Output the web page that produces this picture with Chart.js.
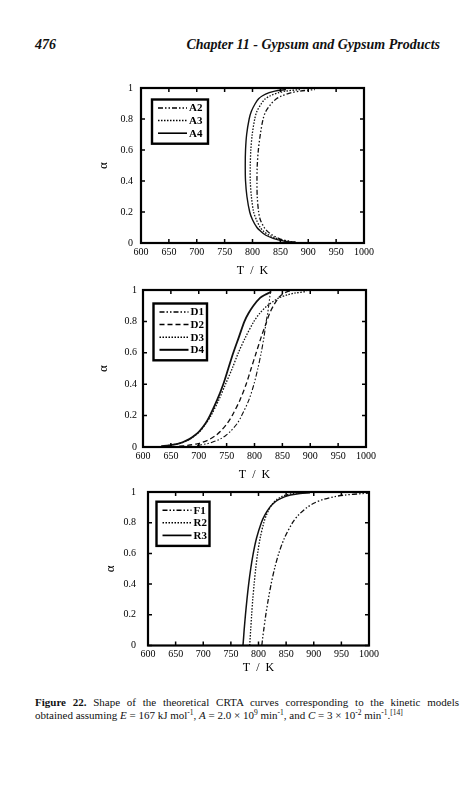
<!DOCTYPE html>
<html>
<head>
<meta charset="utf-8">
<script src="https://cdn.jsdelivr.net/npm/chart.js@4.4.0/dist/chart.umd.min.js"></script>
<style>
  body { margin: 0; width: 473px; height: 800px; background: #fff; position: relative; overflow: hidden;
         font-family: "Liberation Serif", "Times New Roman", serif; color: #111; }
  canvas { position: absolute; }
  #page { position: absolute; left: 35px; top: 38px; font-size: 14px; line-height: 14px; font-weight: bold; font-style: italic; }
  #chapter { position: absolute; right: 33px; top: 38px; font-size: 14px; line-height: 14px; font-weight: bold; font-style: italic; }
  #caption { position: absolute; left: 35px; top: 696px; width: 424px; font-size: 11px; line-height: 12.5px; }
  #caption .l1 { text-align: justify; text-align-last: justify; }
  #caption sup { font-size: 7.5px; vertical-align: 0; position: relative; top: -4px; }
</style>
</head>
<body>
<div id="page">476</div>
<div id="chapter">Chapter 11 - Gypsum and Gypsum Products</div>

<canvas id="chartA" width="292" height="206" style="left:90px;top:74px"></canvas>
<canvas id="chartD" width="294" height="206" style="left:90px;top:278px"></canvas>
<canvas id="chartR" width="290" height="203" style="left:97px;top:474px"></canvas>

<div id="caption">
  <div class="l1"><b>Figure 22.</b> Shape of the theoretical CRTA curves corresponding to the kinetic models</div>
  <div>obtained assuming <i>E</i> = 167 kJ mol<sup>-1</sup>, <i>A</i> = 2.0 × 10<sup>9</sup> min<sup>-1</sup>, and <i>C</i> = 3 × 10<sup>-2</sup> min<sup>-1</sup>.<sup>[14]</sup></div>
</div>

<script>
// axis ticks shared by all three panels
const xTickLabels = [600, 650, 700, 750, 800, 850, 900, 950, 1000];
const yTickLabels = [0, 0.2, 0.4, 0.6, 0.8, 1];

// top panel: Avrami-Erofeev models, T (K) at each conversion alpha
const alphaA = [0.005, 0.01, 0.02, 0.03, 0.05, 0.075, 0.1, 0.15, 0.2, 0.3, 0.4, 0.5, 0.6, 0.7, 0.8, 0.85, 0.9, 0.93, 0.95, 0.97, 0.98, 0.99];
const tA2 = [878, 868, 855, 847, 836, 827, 821, 814, 811, 808.5, 808, 808.5, 810.5, 814, 819, 824, 834, 843, 853, 870, 885, 912];
const tA3 = [876, 865, 851, 843, 830, 820, 814, 807, 802, 798, 796, 796, 797, 799.5, 804, 808, 816, 823, 832, 847, 860, 885];
const tA4 = [872, 860, 846, 837, 824, 815, 808, 800, 795, 790, 787.5, 787, 787.5, 789.5, 794, 798, 805, 811, 818, 830, 840, 860];

// middle panel: diffusion models
const alphaD = [0.005, 0.01, 0.02, 0.03, 0.05, 0.075, 0.1, 0.15, 0.2, 0.3, 0.4, 0.5, 0.6, 0.7, 0.8, 0.85, 0.9, 0.95, 0.97, 0.98, 0.99, 0.995, 1];
const tD1 = [null, 697, 714, 724, 738, 749, 757, 769, 777, 790, 799, 806, 812, 817, 821, 823.5, 825.5, 827.3, 828, 828.5, 828.8, 829, 829];
const tD2 = [665, 680, 697, 707, 720, 731, 739, 751, 760, 774, 785, 794, 803, 812, 822, 827, 834, 843, 849, 853, 859, 864, null];
const tD3 = [633, 647, 662, 672, 684, 694, 702, 713, 722, 736, 748, 760, 771, 784, 799, 809, 823, 844, 860, 872, 893, null, null];
const tD4 = [633, 647, 662, 671, 683, 693, 701, 712, 720, 733, 744, 753, 762, 772, 782, 789, 798, 810, 819, 825, 830, null, null];

// bottom panel: first order and contracting-geometry models
const alphaR = [0, 0.05, 0.1, 0.2, 0.3, 0.4, 0.5, 0.6, 0.7, 0.8, 0.85, 0.9, 0.93, 0.95, 0.97, 0.98, 0.99, 0.995];
const tF1 = [806, 807.6, 809.4, 813.2, 817.7, 822.8, 829, 836.7, 846.9, 861.6, 872.4, 888, 902, 916, 938, 956, 989, 1010];
const tR2 = [784.1, 784.9, 785.8, 787.6, 789.6, 792.1, 794.9, 798.4, 803, 809.6, 814.3, 821.1, 827.1, 832.8, 841.8, 849, 861.6, 874.6];
const tR3 = [771.9, 773, 774, 776.4, 779.1, 782.2, 785.9, 790.5, 796.5, 805.1, 811.4, 820.3, 828.4, 836.1, 848.1, 857.9, 875.2, 893.2];

const FONT = '"Liberation Serif", "Times New Roman", serif';
const INK = '#111';
const DASH_DOT_DOT = [5, 2, 1.5, 2, 1.5, 2];
const DOTTED = [1.5, 1.5];
const DASHED = [5, 3];

function curve(label, alphas, temps, dash, width) {
  const pts = [];
  temps.forEach((t, i) => { if (t !== null) pts.push({ x: t, y: alphas[i] }); });
  return {
    label, data: pts, showLine: true, borderColor: INK, borderWidth: width,
    borderDash: dash, pointRadius: 0, tension: 0.3, fill: false
  };
}

// frame, inward tick marks and the boxed legend
const frameLegend = {
  id: 'frameLegend',
  afterDatasetsDraw(chart, args, opts) {
    const { ctx, chartArea: a, scales: { x, y } } = chart;
    ctx.save();
    ctx.strokeStyle = '#000';
    ctx.setLineDash([]);
    ctx.lineWidth = 1.5;
    ctx.beginPath();
    x.ticks.forEach(t => {
      const px = x.getPixelForValue(t.value);
      ctx.moveTo(px, a.bottom); ctx.lineTo(px, a.bottom - 4);
      ctx.moveTo(px, a.top); ctx.lineTo(px, a.top + 4);
    });
    y.ticks.forEach(t => {
      const py = y.getPixelForValue(t.value);
      ctx.moveTo(a.left, py); ctx.lineTo(a.left + 4, py);
      ctx.moveTo(a.right, py); ctx.lineTo(a.right - 4, py);
    });
    ctx.stroke();
    ctx.lineWidth = 2.2;
    ctx.strokeRect(a.left, a.top, a.right - a.left, a.bottom - a.top);

    // legend
    const ds = chart.data.datasets;
    const bx = a.left + opts.dx, by = a.top + opts.dy;
    const bh = 8.5 + (ds.length - 1) * 12.6 + 10.5;
    ctx.lineWidth = 2.4;
    ctx.strokeRect(bx, by, opts.w, bh);
    ctx.font = 'bold 11px ' + FONT;
    ctx.fillStyle = '#000';
    ctx.textBaseline = 'middle';
    ds.forEach((d, i) => {
      const ry = by + 8.5 + i * 12.6;
      ctx.lineWidth = d.borderWidth + 0.2;
      ctx.setLineDash(d.borderDash || []);
      ctx.beginPath();
      ctx.moveTo(bx + 6, ry); ctx.lineTo(bx + 35, ry);
      ctx.stroke();
      ctx.setLineDash([]);
      ctx.fillText(d.label, bx + 37, ry + 0.5);
    });
    ctx.restore();
  }
};

function makePanel(id, datasets, cfg) {
  new Chart(document.getElementById(id), {
    type: 'scatter',
    data: { datasets },
    plugins: [frameLegend],
    options: {
      responsive: false, animation: false, events: [],
      layout: { padding: { left: 0, right: cfg.padRight, top: 6 + cfg.yPad, bottom: 0 } },
      plugins: {
        legend: { display: false }, tooltip: { enabled: false },
        frameLegend: cfg.legend
      },
      scales: {
        x: {
          type: 'linear', min: 600, max: 1000,
          grid: { display: false, drawTicks: false }, border: { display: false },
          afterBuildTicks: s => { s.ticks = xTickLabels.map(v => ({ value: v })); },
          afterFit: s => { s.height = cfg.xAxisH; },
          ticks: { padding: 3, color: '#000', font: { family: FONT, size: 10 }, maxRotation: 0, autoSkip: false,
                   callback: v => String(v) },
          title: { display: true, text: 'T\u2002/\u2002K', color: '#000', font: { family: FONT, size: 12 },
                   padding: { top: 0, bottom: 1.8 } }
        },
        y: {
          type: 'linear', min: 0, max: 1,
          grid: { display: false, drawTicks: false }, border: { display: false },
          afterBuildTicks: s => { s.ticks = yTickLabels.map(v => ({ value: v })); },
          afterFit: s => { s.width = cfg.yAxisW; },
          ticks: { padding: cfg.yPad, color: '#000', font: { family: FONT, size: 10 }, callback: v => String(v) },
          title: { display: true, text: 'α', color: '#000', font: { family: FONT, size: 13 },
                   padding: { top: 6.2, bottom: 0 } }
        }
      }
    }
  });
}

makePanel('chartA', [
  curve('A2', alphaA, tA2, DASH_DOT_DOT, 1.3),
  curve('A3', alphaA, tA3, DOTTED, 1.3),
  curve('A4', alphaA, tA4, [], 1.4)
], { padRight: 18, xAxisH: 37, yAxisW: 51, yPad: 8, legend: { dx: 11, dy: 11.5, w: 56 } });

makePanel('chartD', [
  curve('D1', alphaD, tD1, DASH_DOT_DOT, 1.1),
  curve('D2', alphaD, tD2, DASHED, 1.3),
  curve('D3', alphaD, tD3, DOTTED, 1.3),
  curve('D4', alphaD, tD4, [], 1.8)
], { padRight: 18, xAxisH: 37, yAxisW: 53, yPad: 6, legend: { dx: 10.5, dy: 13.5, w: 53.5 } });

makePanel('chartR', [
  curve('F1', alphaR, tF1, DASH_DOT_DOT, 1.3),
  curve('R2', alphaR, tR2, DOTTED, 1.3),
  curve('R3', alphaR, tR3, [], 1.5)
], { padRight: 18, xAxisH: 31.5, yAxisW: 51, yPad: 12, legend: { dx: 8.5, dy: 9.7, w: 53 } });
</script>
</body>
</html>
